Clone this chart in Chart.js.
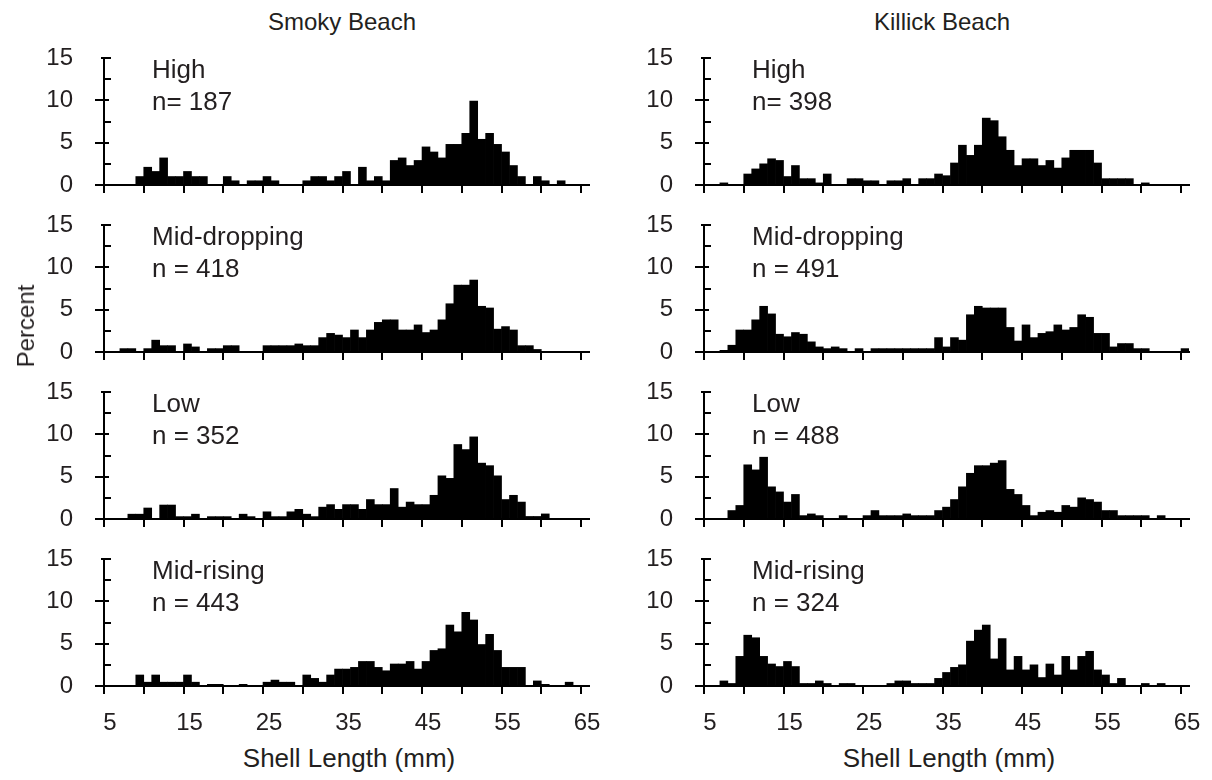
<!DOCTYPE html>
<html>
<head>
<meta charset="utf-8">
<title>Shell length by tide level</title>
<script src="https://cdn.jsdelivr.net/npm/chart.js@4.4.1/dist/chart.umd.min.js"></script>
<style>
  html, body { margin: 0; padding: 0; background: #fff; }
  #figure { position: relative; width: 1212px; height: 780px; overflow: hidden;
            font-family: "Liberation Sans", Arial, Helvetica, sans-serif; color: #231f20; }
  #figure canvas { position: absolute; }
  .txt { position: absolute; white-space: nowrap; }
  .beach { font-size: 24px; line-height: 28px; transform: translateX(-50%); }
  .axis-title { font-size: 26px; line-height: 30px; transform: translateX(-50%); }
  .tag { font-size: 26px; line-height: 32px; }
  #percent { font-size: 24px; line-height: 28px; transform: translate(-50%, -50%) rotate(-90deg); }
</style>
</head>
<body>
<div id="figure"></div>
<script>
// shell length bins (mm), each bar covers [bin, bin + 1)
const lengthBins = [5, 6, 7, 8, 9, 10, 11, 12, 13, 14, 15, 16, 17, 18, 19, 20, 21, 22, 23, 24,
  25, 26, 27, 28, 29, 30, 31, 32, 33, 34, 35, 36, 37, 38, 39, 40, 41, 42, 43, 44,
  45, 46, 47, 48, 49, 50, 51, 52, 53, 54, 55, 56, 57, 58, 59, 60, 61, 62, 63, 64, 65];

// percent of shells per bin - Smoky Beach
const smokyHigh = [0, 0, 0, 0, 1.0, 2.1, 1.6, 3.2, 1.0, 1.0,
  1.6, 1.0, 1.0, 0, 0, 1.0, 0.5, 0, 0.5, 0.5,
  1.0, 0.5, 0, 0, 0, 0.5, 1.0, 1.0, 0.5, 1.0,
  1.6, 0, 2.1, 0.5, 1.0, 0.5, 2.9, 3.2, 2.3, 2.9,
  4.5, 3.9, 3.2, 4.8, 4.8, 6.1, 9.9, 5.4, 6.1, 4.8,
  3.9, 2.3, 1.0, 0, 1.0, 0.5, 0, 0.5, 0, 0, 0];
const smokyMidDropping = [0, 0, 0.4, 0.4, 0, 0.4, 1.4, 0.75, 0.75, 0,
  0.95, 0.6, 0, 0.4, 0.4, 0.75, 0.75, 0, 0, 0,
  0.75, 0.75, 0.75, 0.75, 0.95, 0.75, 0.75, 1.7, 2.2, 2.0,
  1.7, 2.6, 1.7, 2.6, 3.5, 3.8, 3.8, 2.6, 2.6, 3.2,
  2.3, 2.6, 3.8, 5.7, 7.9, 7.9, 8.5, 5.4, 5.2, 2.7,
  3.0, 2.6, 0.75, 0.75, 0.3, 0, 0, 0, 0, 0, 0];
const smokyLow = [0, 0, 0, 0.57, 0.57, 1.3, 0, 1.65, 1.65, 0.28,
  0.28, 0.57, 0, 0.28, 0.28, 0.28, 0, 0.57, 0.28, 0,
  0.85, 0.28, 0.28, 0.85, 1.14, 0.57, 0.28, 1.4, 1.7, 1.14,
  1.7, 1.7, 1.14, 2.3, 1.7, 1.7, 3.6, 1.4, 2.0, 1.7,
  1.7, 2.8, 5.1, 4.8, 8.8, 8.2, 9.7, 6.6, 6.3, 5.1,
  2.3, 2.8, 2.0, 0.3, 0.3, 0.6, 0, 0, 0, 0, 0];
const smokyMidRising = [0, 0, 0, 0, 1.3, 0.45, 1.3, 0.45, 0.45, 0.45,
  1.3, 0.45, 0, 0.2, 0.2, 0, 0, 0.2, 0, 0,
  0.45, 0.7, 0.45, 0.45, 0, 1.3, 0.9, 0.45, 1.3, 2.0,
  2.0, 2.2, 2.9, 2.9, 2.2, 1.8, 2.6, 2.6, 2.9, 2.0,
  2.9, 4.2, 4.4, 7.2, 6.4, 8.7, 7.8, 4.9, 6.1, 4.2,
  2.2, 2.2, 2.2, 0, 0.6, 0.2, 0, 0, 0.45, 0, 0];

// percent of shells per bin - Killick Beach
const killickHigh = [0, 0, 0.25, 0, 0, 1.3, 1.9, 2.5, 3.1, 2.9,
  1.0, 2.3, 0.75, 0.75, 0.25, 1.3, 0, 0, 0.75, 0.75,
  0.5, 0.5, 0, 0.5, 0.5, 0.75, 0, 0.75, 0.75, 1.3,
  1.1, 2.6, 4.7, 3.5, 4.7, 7.9, 7.6, 5.7, 4.1, 2.3,
  3.1, 3.1, 2.3, 2.9, 2.0, 3.2, 4.1, 4.1, 4.1, 2.6,
  0.75, 0.75, 0.75, 0.75, 0, 0.25, 0, 0, 0, 0, 0];
const killickMidDropping = [0, 0, 0.2, 0.8, 2.6, 2.6, 3.8, 5.4, 4.5, 2.1,
  1.8, 2.3, 2.1, 1.2, 0.6, 0.4, 0.6, 0.4, 0, 0.4,
  0, 0.4, 0.4, 0.4, 0.4, 0.4, 0.4, 0.4, 0.4, 1.7,
  0.6, 1.7, 1.4, 4.4, 5.4, 5.2, 5.2, 5.2, 2.9, 1.3,
  3.2, 1.7, 2.2, 2.4, 3.2, 2.6, 2.9, 4.4, 4.1, 2.2,
  2.2, 0.6, 1.0, 1.0, 0.4, 0.4, 0, 0, 0, 0, 0.4];
const killickLow = [0, 0, 0, 1.0, 1.6, 6.4, 5.8, 7.3, 3.8, 3.2,
  2.0, 2.9, 0.4, 0.6, 0.4, 0, 0, 0.4, 0, 0,
  0.4, 1.0, 0.4, 0.4, 0.4, 0.6, 0.4, 0.4, 0.4, 1.0,
  1.4, 2.3, 3.8, 5.4, 6.3, 6.3, 6.6, 6.9, 3.5, 2.9,
  1.6, 0.4, 0.8, 1.0, 0.8, 1.6, 1.4, 2.5, 2.3, 2.0,
  1.0, 1.0, 0.4, 0.4, 0.4, 0.4, 0, 0.4, 0, 0, 0];
const killickMidRising = [0, 0, 0.6, 0.3, 3.5, 6.0, 5.7, 3.5, 2.6, 2.3,
  2.9, 2.3, 0.3, 0.3, 0.6, 0.3, 0, 0.3, 0.3, 0,
  0, 0, 0, 0.3, 0.6, 0.6, 0.3, 0.3, 0.3, 0.9,
  1.6, 2.2, 2.5, 5.3, 6.6, 7.2, 3.2, 5.6, 1.9, 3.5,
  1.9, 2.5, 1.0, 2.6, 1.3, 3.5, 1.9, 3.5, 4.1, 1.9,
  1.3, 0.3, 0.9, 0, 0, 0.3, 0, 0.3, 0, 0, 0];

const tideLevels = ['High', 'Mid-dropping', 'Low', 'Mid-rising'];
const smokyCounts = ['n= 187', 'n = 418', 'n = 352', 'n = 443'];
const killickCounts = ['n= 398', 'n = 491', 'n = 488', 'n = 324'];

const xTickValues = [5, 10, 15, 20, 25, 30, 35, 40, 45, 50, 55, 60, 65];
const xTickLabels = [5, 15, 25, 35, 45, 55, 65];
const yTickValues = [0, 2.5, 5, 7.5, 10, 12.5, 15];
const yTickLabels = [0, 5, 10, 15];

const ink = '#000';
const textInk = '#231f20';
const fontFamily = '"Liberation Sans", Arial, Helvetica, sans-serif';

// layout (px). Padding is generous because Chart.js adds the tick padding to the
// label overhang; the canvases are transparent, so overlapping them is harmless.
const PANEL_TOP = 58, PANEL_STEP = 167, PLOT_H = 127, PLOT_W = 485;
const Y_AXIS_W = 80, PAD_TOP = 40, PAD_RIGHT = 24, PAD_BOTTOM = 30;

const columns = [
  { title: 'Smoky Beach', axisLeft: 104,
    series: [smokyHigh, smokyMidDropping, smokyLow, smokyMidRising], counts: smokyCounts },
  { title: 'Killick Beach', axisLeft: 704,
    series: [killickHigh, killickMidDropping, killickLow, killickMidRising], counts: killickCounts }
];

// y tick marks: major ones cross the axis, minor ones point inwards
const yTickMarks = {
  id: 'yTickMarks',
  afterDraw(chart) {
    const { ctx, chartArea, scales: { y } } = chart;
    const x0 = chartArea.left;
    ctx.save();
    ctx.strokeStyle = ink;
    ctx.lineWidth = 2;
    yTickValues.forEach(v => {
      const py = Math.round(y.getPixelForValue(v));
      let from = x0, to = x0 + 7;
      if (v === 15) { from = x0 - 3; to = x0 + 7; }
      else if (v === 0) { from = x0 - 9; to = x0; }
      else if (v % 5 === 0) { from = x0 - 9; to = x0 + 5; }
      ctx.beginPath();
      ctx.moveTo(from, py);
      ctx.lineTo(to, py);
      ctx.stroke();
    });
    ctx.restore();
  }
};

const fig = document.getElementById('figure');

function addText(cls, text, left, top) {
  const d = document.createElement('div');
  d.className = 'txt ' + cls;
  d.textContent = text;
  d.style.left = left + 'px';
  d.style.top = top + 'px';
  fig.appendChild(d);
  return d;
}

columns.forEach(col => {
  addText('beach', col.title, col.axisLeft + 238, 8);
  addText('axis-title', 'Shell Length (mm)', col.axisLeft + 245, 743);

  col.series.forEach((values, row) => {
    const top = PANEL_TOP + row * PANEL_STEP;
    const bottomRow = row === tideLevels.length - 1;
    const xh = bottomRow ? 44 : 12;

    const canvas = document.createElement('canvas');
    canvas.width = Y_AXIS_W + PLOT_W + PAD_RIGHT;
    canvas.height = PAD_TOP + PLOT_H + xh + PAD_BOTTOM;
    canvas.style.left = (col.axisLeft - Y_AXIS_W) + 'px';
    canvas.style.top = (top - PAD_TOP) + 'px';
    fig.appendChild(canvas);

    new Chart(canvas, {
      type: 'bar',
      data: {
        datasets: [{
          data: lengthBins.map((b, i) => ({ x: b + 0.5, y: values[i] })),
          backgroundColor: ink,
          borderWidth: 0,
          barPercentage: 1,
          categoryPercentage: 1
        }]
      },
      options: {
        responsive: false,
        animation: false,
        events: [],
        layout: { padding: { top: PAD_TOP, right: PAD_RIGHT, left: 0, bottom: PAD_BOTTOM } },
        plugins: { legend: { display: false }, tooltip: { enabled: false } },
        scales: {
          x: {
            type: 'linear',
            min: 5,
            max: 66,
            offset: false,
            afterBuildTicks: s => { s.ticks = xTickValues.map(v => ({ value: v })); },
            afterFit: s => { s.height = xh; },
            grid: { display: true, offset: false, drawOnChartArea: false, drawTicks: true,
                    tickLength: 8, tickWidth: 2, tickColor: ink, lineWidth: 2, color: ink },
            border: { display: true, color: ink, width: 2 },
            ticks: {
              display: bottomRow,
              autoSkip: false,
              maxRotation: 0,
              labelOffset: 6,
              padding: 15,
              color: textInk,
              font: { family: fontFamily, size: 24 },
              callback: v => xTickLabels.includes(v) ? String(v) : ''
            }
          },
          y: {
            min: 0,
            max: 15,
            afterBuildTicks: s => { s.ticks = yTickValues.map(v => ({ value: v })); },
            afterFit: s => { s.width = Y_AXIS_W; },
            grid: { display: false },
            border: { display: true, color: ink, width: 2 },
            ticks: {
              padding: 23,
              color: textInk,
              font: { family: fontFamily, size: 24 },
              callback: v => yTickLabels.includes(v) ? String(v) : ''
            }
          }
        }
      },
      plugins: [yTickMarks]
    });

    const tag = addText('tag', '', col.axisLeft + 48, top - 5);
    tag.appendChild(document.createTextNode(tideLevels[row]));
    tag.appendChild(document.createElement('br'));
    tag.appendChild(document.createTextNode(col.counts[row]));
  });
});

const percent = addText('', 'Percent', 26, 326);
percent.id = 'percent';
</script>
</body>
</html>
